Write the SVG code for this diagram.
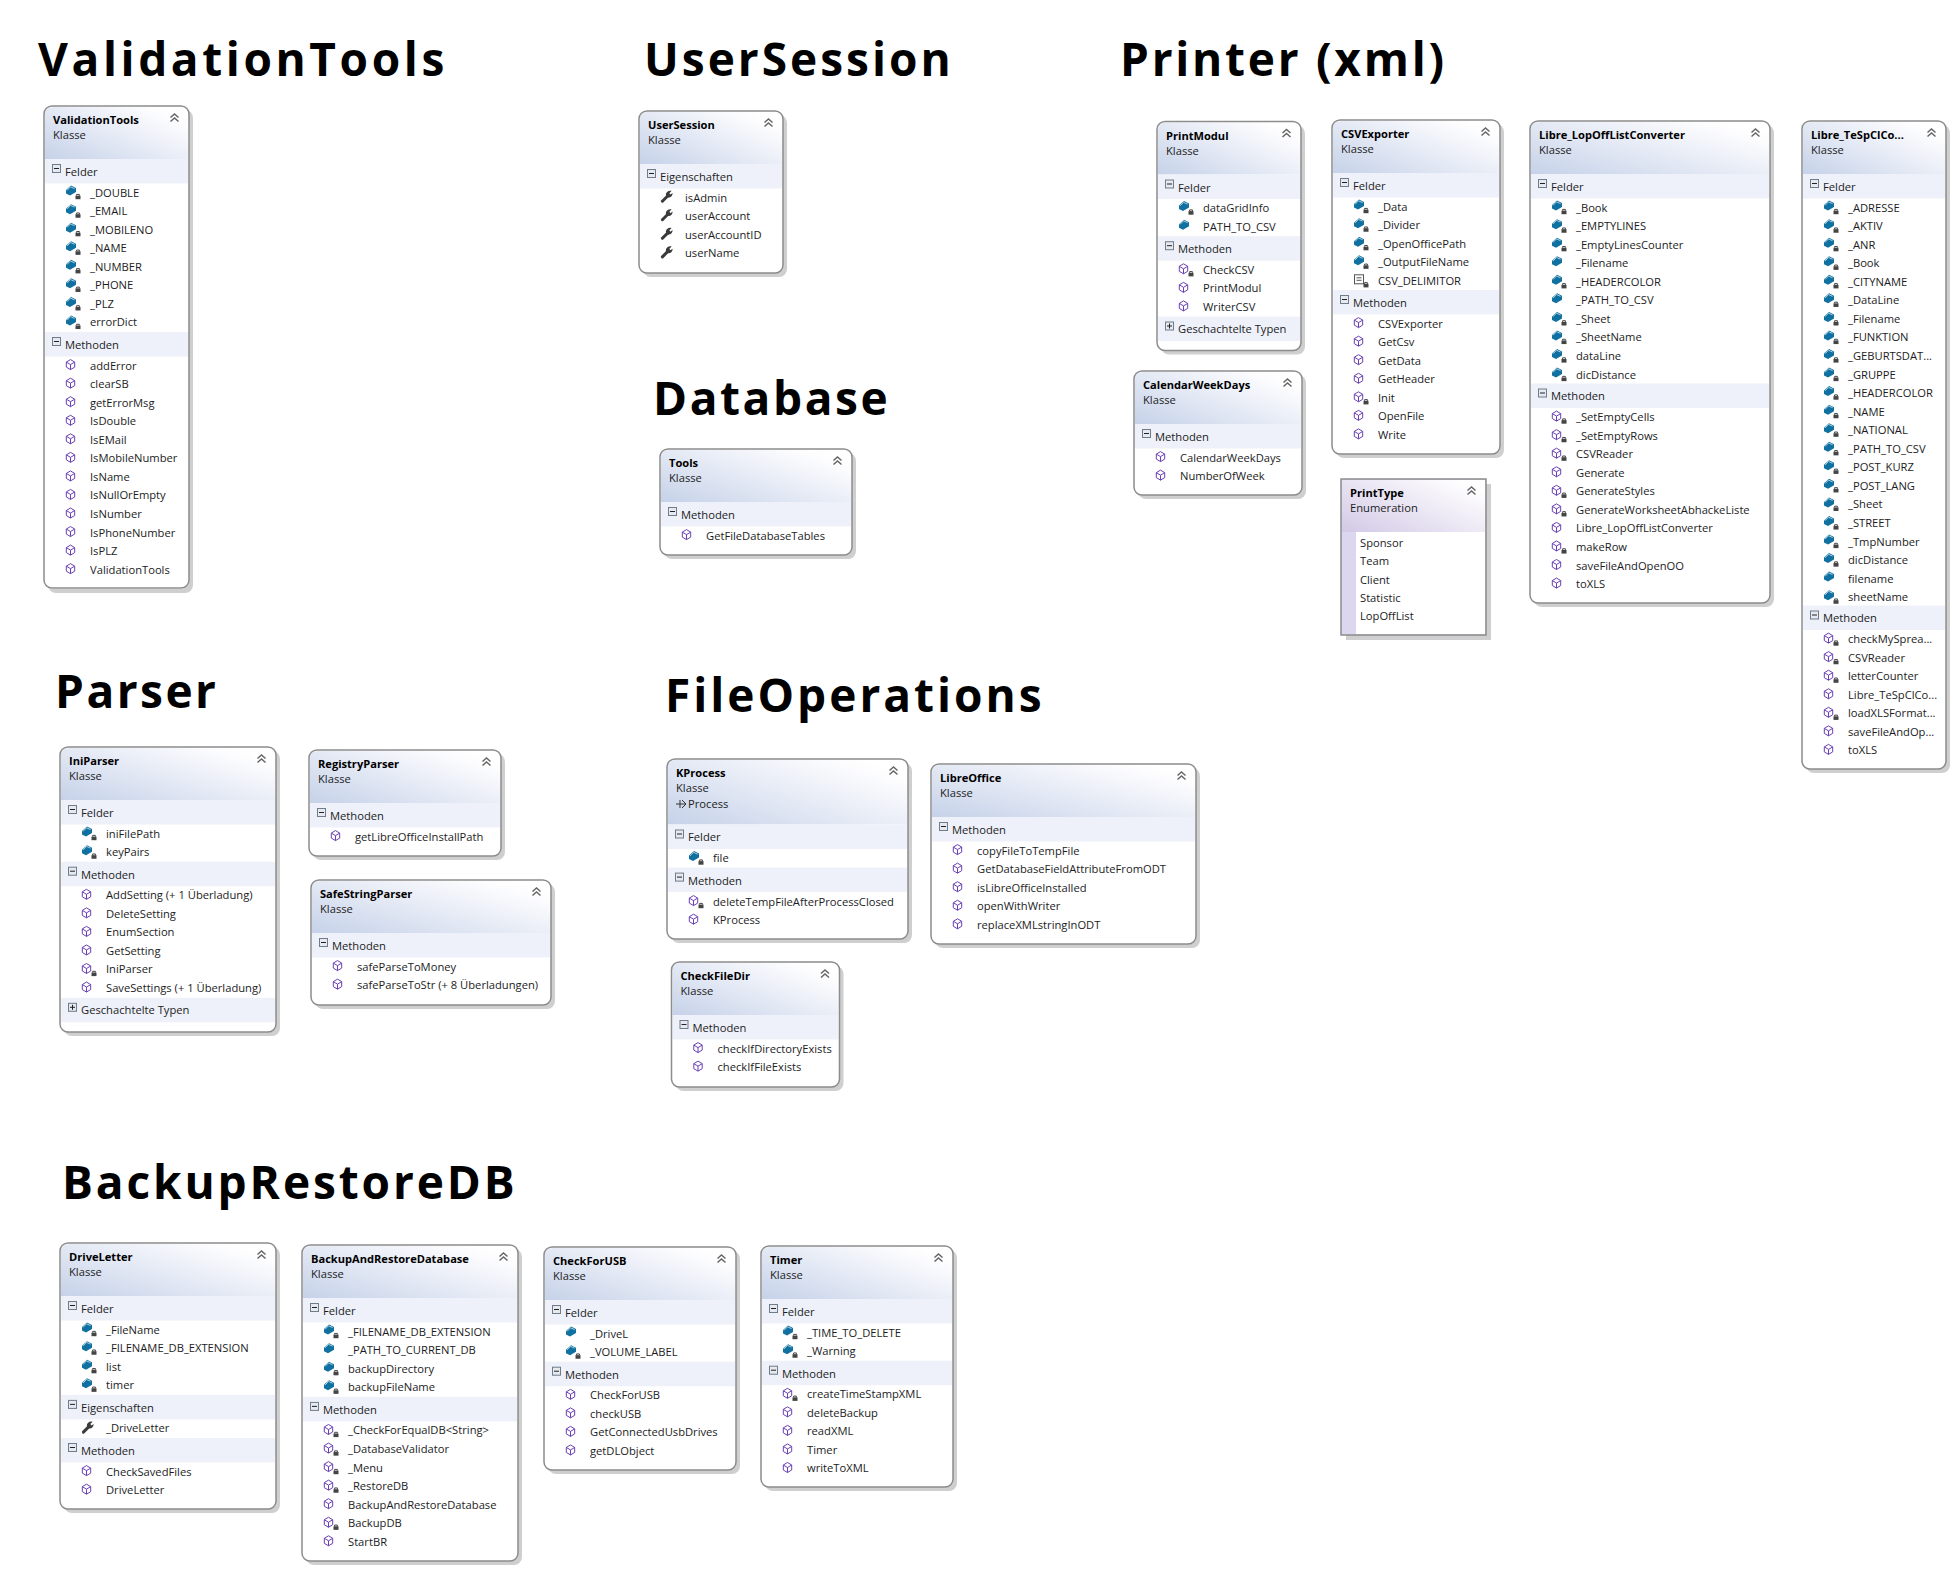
<svg xmlns="http://www.w3.org/2000/svg" width="1955" height="1570" viewBox="0 0 1955 1570">
<style>
text{font-family:"Open Sans","Noto Sans","Liberation Sans",sans-serif;font-size:11.2px;fill:#1c1c24}
.title{font-weight:700;font-size:46px;letter-spacing:3.7px;fill:#000}
.name{font-weight:700;font-size:11.1px;fill:#000}
.shadow{fill:#cfcfcf}
.body{fill:#fff}
.outline{fill:none;stroke:#8c8c8c;stroke-width:1.5}
.head{fill:url(#hg)}
.ehead{fill:url(#eg)}
.band{fill:#eef1f9}
</style>
<defs>
<linearGradient id="hg" x1="0" y1="1" x2="1" y2="0.2"><stop offset="0" stop-color="#c6d2e9"/><stop offset="0.9" stop-color="#fcfcfe"/><stop offset="1" stop-color="#fff"/></linearGradient>
<linearGradient id="eg" x1="0" y1="1" x2="1" y2="0.2"><stop offset="0" stop-color="#d2c9e6"/><stop offset="0.9" stop-color="#fbfafd"/><stop offset="1" stop-color="#fff"/></linearGradient>
<g id="lock"><rect x="9.5" y="-1" width="5" height="3.6" fill="#444"/><path d="M10.6,-1V-2.2h2.8V-1" fill="none" stroke="#444"/></g>
<g id="f"><path d="M0,-6.5L5,-11L10,-8.5V-4.5L4,-1L0,-3Z" fill="#10709f"/><path d="M1,-6.2L4.5,-9.8L8.6,-8" fill="none" stroke="#b9dbeb" stroke-width="0.9"/></g>
<g id="fl"><use href="#f"/><use href="#lock"/></g>
<g id="m"><path d="M4.5,-10L8.7,-7.5V-2.5L4.5,0L0.3,-2.5V-7.5ZM0.3,-7.5L4.5,-5L8.7,-7.5M4.5,-5V0" fill="none" stroke="#6a3fb5" stroke-width="1"/></g>
<g id="ml"><use href="#m"/><use href="#lock"/></g>
<g id="p"><path d="M1.4,-0.4L6.6,-5.6" stroke="#3a3a3a" stroke-width="3" stroke-linecap="round" fill="none"/><path d="M4.8,-6.6C4.8,-9.6 7.4,-11.4 10.6,-10.8L8.4,-8.4L9.4,-7L11.6,-8.6C11.8,-5.6 9.4,-3.6 6.6,-4.2Z" fill="#3a3a3a"/></g>
<g id="cl"><rect x="0.5" y="-10" width="9" height="9" fill="#fff" stroke="#555"/><path d="M2.5,-7H7.5M2.5,-4.5H7.5" stroke="#555"/><use href="#lock"/></g>
<g id="minus"><rect x="0.5" y="0.5" width="8" height="8" fill="#e6e9ef" stroke="#6f7c8a"/><path d="M2,4.5H7" stroke="#222"/></g>
<g id="plus"><rect x="0.5" y="0.5" width="8" height="8" fill="#e6e9ef" stroke="#6f7c8a"/><path d="M2,4.5H7M4.5,2V7" stroke="#222"/></g>
<path id="c" d="M0.5,4.5L4.5,1L8.5,4.5M0.5,8.5L4.5,5L8.5,8.5" fill="none" stroke="#666" stroke-width="1.5"/>
</defs>

<g id="titles">
<text class="title" x="38" y="76" style="letter-spacing:3.6px">ValidationTools</text>
<text class="title" x="644" y="76" style="letter-spacing:3px">UserSession</text>
<text class="title" x="1120" y="76" style="letter-spacing:2.75px">Printer (xml)</text>
<text class="title" x="653" y="415" style="letter-spacing:2.6px">Database</text>
<text class="title" x="55" y="708" style="letter-spacing:2.5px">Parser</text>
<text class="title" x="665" y="712" style="letter-spacing:3px">FileOperations</text>
<text class="title" x="62" y="1199" style="letter-spacing:2.9px">BackupRestoreDB</text>
</g>

<g id="ValidationTools" transform="translate(44,106)">
<rect class="shadow" x="4" y="4" width="145" height="483" rx="8"/><rect class="body" width="145" height="483" rx="8"/><path class="head" d="M1,53V9Q1,1 9,1H136Q144,1 144,9V53Z"/>
<text class="name" x="9" y="18">ValidationTools</text><text x="9" y="33">Klasse</text><use href="#c" x="126" y="7"/>
<g transform="translate(0,53)"><rect class="band" x="1" width="143" height="24.5"/><use href="#minus" x="8" y="5"/><text x="21" y="17">Felder</text>
<use href="#fl" x="22" y="37.6"/><text x="46" y="37.6">_DOUBLE</text>
<use href="#fl" x="22" y="56.15"/><text x="46" y="56.15">_EMAIL</text>
<use href="#fl" x="22" y="74.7"/><text x="46" y="74.7">_MOBILENO</text>
<use href="#fl" x="22" y="93.25"/><text x="46" y="93.25">_NAME</text>
<use href="#fl" x="22" y="111.8"/><text x="46" y="111.8">_NUMBER</text>
<use href="#fl" x="22" y="130.35"/><text x="46" y="130.35">_PHONE</text>
<use href="#fl" x="22" y="148.9"/><text x="46" y="148.9">_PLZ</text>
<use href="#fl" x="22" y="167.45"/><text x="46" y="167.45">errorDict</text></g>
<g transform="translate(0,226)"><rect class="band" x="1" width="143" height="24.5"/><use href="#minus" x="8" y="5"/><text x="21" y="16.5">Methoden</text>
<use href="#m" x="22" y="37.6"/><text x="46" y="37.6">addError</text>
<use href="#m" x="22" y="56.15"/><text x="46" y="56.15">clearSB</text>
<use href="#m" x="22" y="74.7"/><text x="46" y="74.7">getErrorMsg</text>
<use href="#m" x="22" y="93.25"/><text x="46" y="93.25">IsDouble</text>
<use href="#m" x="22" y="111.8"/><text x="46" y="111.8">IsEMail</text>
<use href="#m" x="22" y="130.35"/><text x="46" y="130.35">IsMobileNumber</text>
<use href="#m" x="22" y="148.9"/><text x="46" y="148.9">IsName</text>
<use href="#m" x="22" y="167.45"/><text x="46" y="167.45">IsNullOrEmpty</text>
<use href="#m" x="22" y="186"/><text x="46" y="186">IsNumber</text>
<use href="#m" x="22" y="204.55"/><text x="46" y="204.55">IsPhoneNumber</text>
<use href="#m" x="22" y="223.1"/><text x="46" y="223.1">IsPLZ</text>
<use href="#m" x="22" y="241.65"/><text x="46" y="241.65">ValidationTools</text></g>
<rect class="outline" width="145" height="482" rx="8"/>
</g>

<g id="UserSession" transform="translate(639,111)">
<rect class="shadow" x="4" y="4" width="144" height="162" rx="8"/><rect class="body" width="144" height="162" rx="8"/><path class="head" d="M1,53V9Q1,1 9,1H135Q143,1 143,9V53Z"/>
<text class="name" x="9" y="18">UserSession</text><text x="9" y="33">Klasse</text><use href="#c" x="125" y="7"/>
<g transform="translate(0,53)"><rect class="band" x="1" width="142" height="24.5"/><use href="#minus" x="8" y="5"/><text x="21" y="17">Eigenschaften</text>
<use href="#p" x="22" y="37.6"/><text x="46" y="37.6">isAdmin</text>
<use href="#p" x="22" y="56.15"/><text x="46" y="56.15">userAccount</text>
<use href="#p" x="22" y="74.7"/><text x="46" y="74.7">userAccountID</text>
<use href="#p" x="22" y="93.25"/><text x="46" y="93.25">userName</text></g>
<rect class="outline" width="144" height="162" rx="8"/>
</g>

<g id="Tools" transform="translate(660,449)">
<rect class="shadow" x="4" y="4" width="192" height="106" rx="8"/><rect class="body" width="192" height="106" rx="8"/><path class="head" d="M1,53V9Q1,1 9,1H183Q191,1 191,9V53Z"/>
<text class="name" x="9" y="18">Tools</text><text x="9" y="33">Klasse</text><use href="#c" x="173" y="7"/>
<g transform="translate(0,53)"><rect class="band" x="1" width="190" height="24.5"/><use href="#minus" x="8" y="5"/><text x="21" y="17">Methoden</text>
<use href="#m" x="22" y="37.6"/><text x="46" y="37.6">GetFileDatabaseTables</text></g>
<rect class="outline" width="192" height="106" rx="8"/>
</g>

<g id="PrintModul" transform="translate(1157,121.5)">
<rect class="shadow" x="4" y="4" width="144" height="229" rx="8"/><rect class="body" width="144" height="229" rx="8"/><path class="head" d="M1,53V9Q1,1 9,1H135Q143,1 143,9V53Z"/>
<text class="name" x="9" y="18">PrintModul</text><text x="9" y="33">Klasse</text><use href="#c" x="125" y="7"/>
<g transform="translate(0,53)"><rect class="band" x="1" width="142" height="24.5"/><use href="#minus" x="8" y="5"/><text x="21" y="17">Felder</text>
<use href="#fl" x="22" y="37.6"/><text x="46" y="37.6">dataGridInfo</text>
<use href="#f" x="22" y="56.15"/><text x="46" y="56.15">PATH_TO_CSV</text></g>
<g transform="translate(0,114.7)"><rect class="band" x="1" width="142" height="24.5"/><use href="#minus" x="8" y="5"/><text x="21" y="17">Methoden</text>
<use href="#ml" x="22" y="37.6"/><text x="46" y="37.6">CheckCSV</text>
<use href="#m" x="22" y="56.15"/><text x="46" y="56.15">PrintModul</text>
<use href="#m" x="22" y="74.7"/><text x="46" y="74.7">WriterCSV</text></g>
<g transform="translate(0,195)"><rect class="band" x="1" width="142" height="24.5"/><use href="#plus" x="8" y="5"/><text x="21" y="16.5">Geschachtelte Typen</text></g>
<rect class="outline" width="144" height="229" rx="8"/>
</g>

<g id="CalendarWeekDays" transform="translate(1134,371)">
<rect class="shadow" x="4" y="4" width="168" height="124" rx="8"/><rect class="body" width="168" height="124" rx="8"/><path class="head" d="M1,53V9Q1,1 9,1H159Q167,1 167,9V53Z"/>
<text class="name" x="9" y="18">CalendarWeekDays</text><text x="9" y="33">Klasse</text><use href="#c" x="149" y="7"/>
<g transform="translate(0,53)"><rect class="band" x="1" width="166" height="24.5"/><use href="#minus" x="8" y="5"/><text x="21" y="17">Methoden</text>
<use href="#m" x="22" y="37.6"/><text x="46" y="37.6">CalendarWeekDays</text>
<use href="#m" x="22" y="56.15"/><text x="46" y="56.15">NumberOfWeek</text></g>
<rect class="outline" width="168" height="124" rx="8"/>
</g>

<g id="CSVExporter" transform="translate(1332,120)">
<rect class="shadow" x="4" y="4" width="168" height="334" rx="8"/><rect class="body" width="168" height="334" rx="8"/><path class="head" d="M1,53V9Q1,1 9,1H159Q167,1 167,9V53Z"/>
<text class="name" x="9" y="18">CSVExporter</text><text x="9" y="33">Klasse</text><use href="#c" x="149" y="7"/>
<g transform="translate(0,53)"><rect class="band" x="1" width="166" height="24.5"/><use href="#minus" x="8" y="5"/><text x="21" y="17">Felder</text>
<use href="#fl" x="22" y="37.6"/><text x="46" y="37.6">_Data</text>
<use href="#fl" x="22" y="56.15"/><text x="46" y="56.15">_Divider</text>
<use href="#fl" x="22" y="74.7"/><text x="46" y="74.7">_OpenOfficePath</text>
<use href="#fl" x="22" y="93.25"/><text x="46" y="93.25">_OutputFileName</text>
<use href="#cl" x="22" y="111.8"/><text x="46" y="111.8">CSV_DELIMITOR</text></g>
<g transform="translate(0,170)"><rect class="band" x="1" width="166" height="24.5"/><use href="#minus" x="8" y="5"/><text x="21" y="16.5">Methoden</text>
<use href="#m" x="22" y="37.6"/><text x="46" y="37.6">CSVExporter</text>
<use href="#m" x="22" y="56.15"/><text x="46" y="56.15">GetCsv</text>
<use href="#m" x="22" y="74.7"/><text x="46" y="74.7">GetData</text>
<use href="#m" x="22" y="93.25"/><text x="46" y="93.25">GetHeader</text>
<use href="#ml" x="22" y="111.8"/><text x="46" y="111.8">Init</text>
<use href="#m" x="22" y="130.35"/><text x="46" y="130.35">OpenFile</text>
<use href="#m" x="22" y="148.9"/><text x="46" y="148.9">Write</text></g>
<rect class="outline" width="168" height="334" rx="8"/>
</g>

<g id="PrintType" transform="translate(1341,479)">
<rect class="shadow" x="5" y="5" width="145" height="156"/><rect x="0" y="0" width="145" height="156" fill="#dcd6ee"/><path class="ehead" d="M1,53V1H144V53Z"/><rect class="body" x="15" y="53" width="129" height="102"/>
<text class="name" x="9" y="18">PrintType</text><text x="9" y="33">Enumeration</text><use href="#c" x="126" y="7"/>
<text x="19" y="68">Sponsor</text><text x="19" y="86.4">Team</text><text x="19" y="104.6">Client</text><text x="19" y="123">Statistic</text><text x="19" y="141.4">LopOffList</text>
<rect class="outline" width="145" height="156"/>
</g>

<g id="Libre_LopOffListConverter" transform="translate(1530,121)">
<rect class="shadow" x="4" y="4" width="240" height="482" rx="8"/><rect class="body" width="240" height="482" rx="8"/><path class="head" d="M1,53V9Q1,1 9,1H231Q239,1 239,9V53Z"/>
<text class="name" x="9" y="18">Libre_LopOffListConverter</text><text x="9" y="33">Klasse</text><use href="#c" x="221" y="7"/>
<g transform="translate(0,53)"><rect class="band" x="1" width="238" height="24.5"/><use href="#minus" x="8" y="5"/><text x="21" y="17">Felder</text>
<use href="#fl" x="22" y="37.6"/><text x="46" y="37.6">_Book</text>
<use href="#fl" x="22" y="56.15"/><text x="46" y="56.15">_EMPTYLINES</text>
<use href="#fl" x="22" y="74.7"/><text x="46" y="74.7">_EmptyLinesCounter</text>
<use href="#f" x="22" y="93.25"/><text x="46" y="93.25">_Filename</text>
<use href="#fl" x="22" y="111.8"/><text x="46" y="111.8">_HEADERCOLOR</text>
<use href="#f" x="22" y="130.35"/><text x="46" y="130.35">_PATH_TO_CSV</text>
<use href="#fl" x="22" y="148.9"/><text x="46" y="148.9">_Sheet</text>
<use href="#fl" x="22" y="167.45"/><text x="46" y="167.45">_SheetName</text>
<use href="#fl" x="22" y="186"/><text x="46" y="186">dataLine</text>
<use href="#fl" x="22" y="204.55"/><text x="46" y="204.55">dicDistance</text></g>
<g transform="translate(0,262.5)"><rect class="band" x="1" width="238" height="24.5"/><use href="#minus" x="8" y="5"/><text x="21" y="16">Methoden</text>
<use href="#ml" x="22" y="37.6"/><text x="46" y="37.6">_SetEmptyCells</text>
<use href="#ml" x="22" y="56.15"/><text x="46" y="56.15">_SetEmptyRows</text>
<use href="#ml" x="22" y="74.7"/><text x="46" y="74.7">CSVReader</text>
<use href="#m" x="22" y="93.25"/><text x="46" y="93.25">Generate</text>
<use href="#ml" x="22" y="111.8"/><text x="46" y="111.8">GenerateStyles</text>
<use href="#ml" x="22" y="130.35"/><text x="46" y="130.35">GenerateWorksheetAbhackeListe</text>
<use href="#m" x="22" y="148.9"/><text x="46" y="148.9">Libre_LopOffListConverter</text>
<use href="#ml" x="22" y="167.45"/><text x="46" y="167.45">makeRow</text>
<use href="#m" x="22" y="186"/><text x="46" y="186">saveFileAndOpenOO</text>
<use href="#m" x="22" y="204.55"/><text x="46" y="204.55">toXLS</text></g>
<rect class="outline" width="240" height="482" rx="8"/>
</g>

<g id="Libre_TeSpClConverter" transform="translate(1802,121)">
<rect class="shadow" x="4" y="4" width="144" height="648" rx="8"/><rect class="body" width="144" height="648" rx="8"/><path class="head" d="M1,53V9Q1,1 9,1H135Q143,1 143,9V53Z"/>
<text class="name" x="9" y="18">Libre_TeSpClCo...</text><text x="9" y="33">Klasse</text><use href="#c" x="125" y="7"/>
<g transform="translate(0,53)"><rect class="band" x="1" width="142" height="24.5"/><use href="#minus" x="8" y="5"/><text x="21" y="17">Felder</text>
<use href="#fl" x="22" y="37.6"/><text x="46" y="37.6">_ADRESSE</text>
<use href="#fl" x="22" y="56.15"/><text x="46" y="56.15">_AKTIV</text>
<use href="#fl" x="22" y="74.7"/><text x="46" y="74.7">_ANR</text>
<use href="#fl" x="22" y="93.25"/><text x="46" y="93.25">_Book</text>
<use href="#fl" x="22" y="111.8"/><text x="46" y="111.8">_CITYNAME</text>
<use href="#fl" x="22" y="130.35"/><text x="46" y="130.35">_DataLine</text>
<use href="#fl" x="22" y="148.9"/><text x="46" y="148.9">_Filename</text>
<use href="#fl" x="22" y="167.45"/><text x="46" y="167.45">_FUNKTION</text>
<use href="#fl" x="22" y="186"/><text x="46" y="186">_GEBURTSDAT...</text>
<use href="#fl" x="22" y="204.55"/><text x="46" y="204.55">_GRUPPE</text>
<use href="#fl" x="22" y="223.1"/><text x="46" y="223.1">_HEADERCOLOR</text>
<use href="#fl" x="22" y="241.65"/><text x="46" y="241.65">_NAME</text>
<use href="#fl" x="22" y="260.2"/><text x="46" y="260.2">_NATIONAL</text>
<use href="#fl" x="22" y="278.75"/><text x="46" y="278.75">_PATH_TO_CSV</text>
<use href="#fl" x="22" y="297.3"/><text x="46" y="297.3">_POST_KURZ</text>
<use href="#fl" x="22" y="315.85"/><text x="46" y="315.85">_POST_LANG</text>
<use href="#fl" x="22" y="334.4"/><text x="46" y="334.4">_Sheet</text>
<use href="#fl" x="22" y="352.95"/><text x="46" y="352.95">_STREET</text>
<use href="#fl" x="22" y="371.5"/><text x="46" y="371.5">_TmpNumber</text>
<use href="#fl" x="22" y="390.05"/><text x="46" y="390.05">dicDistance</text>
<use href="#f" x="22" y="408.6"/><text x="46" y="408.6">filename</text>
<use href="#fl" x="22" y="427.15"/><text x="46" y="427.15">sheetName</text></g>
<g transform="translate(0,484.5)"><rect class="band" x="1" width="142" height="24.5"/><use href="#minus" x="8" y="5"/><text x="21" y="16">Methoden</text>
<use href="#ml" x="22" y="37.6"/><text x="46" y="37.6">checkMySprea...</text>
<use href="#ml" x="22" y="56.15"/><text x="46" y="56.15">CSVReader</text>
<use href="#ml" x="22" y="74.7"/><text x="46" y="74.7">letterCounter</text>
<use href="#m" x="22" y="93.25"/><text x="46" y="93.25">Libre_TeSpClCo...</text>
<use href="#ml" x="22" y="111.8"/><text x="46" y="111.8">loadXLSFormat...</text>
<use href="#m" x="22" y="130.35"/><text x="46" y="130.35">saveFileAndOp...</text>
<use href="#m" x="22" y="148.9"/><text x="46" y="148.9">toXLS</text></g>
<rect class="outline" width="144" height="648" rx="8"/>
</g>

<g id="IniParser" transform="translate(60,747)">
<rect class="shadow" x="4" y="4" width="216" height="285" rx="8"/><rect class="body" width="216" height="285" rx="8"/><path class="head" d="M1,53V9Q1,1 9,1H207Q215,1 215,9V53Z"/>
<text class="name" x="9" y="18">IniParser</text><text x="9" y="33">Klasse</text><use href="#c" x="197" y="7"/>
<g transform="translate(0,53)"><rect class="band" x="1" width="214" height="24.5"/><use href="#minus" x="8" y="5"/><text x="21" y="17">Felder</text>
<use href="#fl" x="22" y="37.6"/><text x="46" y="37.6">iniFilePath</text>
<use href="#fl" x="22" y="56.15"/><text x="46" y="56.15">keyPairs</text></g>
<g transform="translate(0,114.7)"><rect class="band" x="1" width="214" height="24.5"/><use href="#minus" x="8" y="5"/><text x="21" y="17">Methoden</text>
<use href="#m" x="22" y="37.6"/><text x="46" y="37.6">AddSetting (+ 1 Überladung)</text>
<use href="#m" x="22" y="56.15"/><text x="46" y="56.15">DeleteSetting</text>
<use href="#m" x="22" y="74.7"/><text x="46" y="74.7">EnumSection</text>
<use href="#m" x="22" y="93.25"/><text x="46" y="93.25">GetSetting</text>
<use href="#ml" x="22" y="111.8"/><text x="46" y="111.8">IniParser</text>
<use href="#m" x="22" y="130.35"/><text x="46" y="130.35">SaveSettings (+ 1 Überladung)</text></g>
<g transform="translate(0,250.8)"><rect class="band" x="1" width="214" height="24.5"/><use href="#plus" x="8" y="5"/><text x="21" y="16">Geschachtelte Typen</text></g>
<rect class="outline" width="216" height="285" rx="8"/>
</g>

<g id="RegistryParser" transform="translate(309,750)">
<rect class="shadow" x="4" y="4" width="192" height="106" rx="8"/><rect class="body" width="192" height="106" rx="8"/><path class="head" d="M1,53V9Q1,1 9,1H183Q191,1 191,9V53Z"/>
<text class="name" x="9" y="18">RegistryParser</text><text x="9" y="33">Klasse</text><use href="#c" x="173" y="7"/>
<g transform="translate(0,53)"><rect class="band" x="1" width="190" height="24.5"/><use href="#minus" x="8" y="5"/><text x="21" y="17">Methoden</text>
<use href="#m" x="22" y="37.6"/><text x="46" y="37.6">getLibreOfficeInstallPath</text></g>
<rect class="outline" width="192" height="106" rx="8"/>
</g>

<g id="SafeStringParser" transform="translate(311,880)">
<rect class="shadow" x="4" y="4" width="240" height="125" rx="8"/><rect class="body" width="240" height="125" rx="8"/><path class="head" d="M1,53V9Q1,1 9,1H231Q239,1 239,9V53Z"/>
<text class="name" x="9" y="18">SafeStringParser</text><text x="9" y="33">Klasse</text><use href="#c" x="221" y="7"/>
<g transform="translate(0,53)"><rect class="band" x="1" width="238" height="24.5"/><use href="#minus" x="8" y="5"/><text x="21" y="17">Methoden</text>
<use href="#m" x="22" y="37.6"/><text x="46" y="37.6">safeParseToMoney</text>
<use href="#m" x="22" y="56.15"/><text x="46" y="56.15">safeParseToStr (+ 8 Überladungen)</text></g>
<rect class="outline" width="240" height="125" rx="8"/>
</g>

<g id="KProcess" transform="translate(667,759)">
<rect class="shadow" x="4" y="4" width="241" height="180" rx="8"/><rect class="body" width="241" height="180" rx="8"/><path class="head" d="M1,65.5V9Q1,1 9,1H232Q240,1 240,9V65.5Z"/>
<text class="name" x="9" y="18">KProcess</text><text x="9" y="33">Klasse</text><path d="M9,45H18M15,41L19,45L15,49M13,41V49" fill="none" stroke="#333"/><text x="21" y="49">Process</text><use href="#c" x="222" y="7"/>
<g transform="translate(0,65.5)"><rect class="band" x="1" width="239" height="24.5"/><use href="#minus" x="8" y="5"/><text x="21" y="16.5">Felder</text>
<use href="#fl" x="22" y="37.6"/><text x="46" y="37.6">file</text></g>
<g transform="translate(0,108.6)"><rect class="band" x="1" width="239" height="24.5"/><use href="#minus" x="8" y="5"/><text x="21" y="17">Methoden</text>
<use href="#ml" x="22" y="38"/><text x="46" y="38">deleteTempFileAfterProcessClosed</text>
<use href="#m" x="22" y="56.55"/><text x="46" y="56.55">KProcess</text></g>
<rect class="outline" width="241" height="180" rx="8"/>
</g>

<g id="LibreOffice" transform="translate(931,764)">
<rect class="shadow" x="4" y="4" width="265" height="180" rx="8"/><rect class="body" width="265" height="180" rx="8"/><path class="head" d="M1,53V9Q1,1 9,1H256Q264,1 264,9V53Z"/>
<text class="name" x="9" y="18">LibreOffice</text><text x="9" y="33">Klasse</text><use href="#c" x="246" y="7"/>
<g transform="translate(0,53)"><rect class="band" x="1" width="263" height="24.5"/><use href="#minus" x="8" y="5"/><text x="21" y="17">Methoden</text>
<use href="#m" x="22" y="37.6"/><text x="46" y="37.6">copyFileToTempFile</text>
<use href="#m" x="22" y="56.15"/><text x="46" y="56.15">GetDatabaseFieldAttributeFromODT</text>
<use href="#m" x="22" y="74.7"/><text x="46" y="74.7">isLibreOfficeInstalled</text>
<use href="#m" x="22" y="93.25"/><text x="46" y="93.25">openWithWriter</text>
<use href="#m" x="22" y="111.8"/><text x="46" y="111.8">replaceXMLstringInODT</text></g>
<rect class="outline" width="265" height="180" rx="8"/>
</g>

<g id="CheckFileDir" transform="translate(671.5,962)">
<rect class="shadow" x="4" y="4" width="168" height="125" rx="8"/><rect class="body" width="168" height="125" rx="8"/><path class="head" d="M1,53V9Q1,1 9,1H159Q167,1 167,9V53Z"/>
<text class="name" x="9" y="18">CheckFileDir</text><text x="9" y="33">Klasse</text><use href="#c" x="149" y="7"/>
<g transform="translate(0,53)"><rect class="band" x="1" width="166" height="24.5"/><use href="#minus" x="8" y="5"/><text x="21" y="17">Methoden</text>
<use href="#m" x="22" y="37.6"/><text x="46" y="37.6">checkIfDirectoryExists</text>
<use href="#m" x="22" y="56.15"/><text x="46" y="56.15">checkIfFileExists</text></g>
<rect class="outline" width="168" height="125" rx="8"/>
</g>

<g id="DriveLetter" transform="translate(60,1243)">
<rect class="shadow" x="4" y="4" width="216" height="266" rx="8"/><rect class="body" width="216" height="266" rx="8"/><path class="head" d="M1,53V9Q1,1 9,1H207Q215,1 215,9V53Z"/>
<text class="name" x="9" y="18">DriveLetter</text><text x="9" y="33">Klasse</text><use href="#c" x="197" y="7"/>
<g transform="translate(0,53)"><rect class="band" x="1" width="214" height="24.5"/><use href="#minus" x="8" y="5"/><text x="21" y="17">Felder</text>
<use href="#fl" x="22" y="37.6"/><text x="46" y="37.6">_FileName</text>
<use href="#fl" x="22" y="56.15"/><text x="46" y="56.15">_FILENAME_DB_EXTENSION</text>
<use href="#fl" x="22" y="74.7"/><text x="46" y="74.7">list</text>
<use href="#fl" x="22" y="93.25"/><text x="46" y="93.25">timer</text></g>
<g transform="translate(0,151.9)"><rect class="band" x="1" width="214" height="24.5"/><use href="#minus" x="8" y="5"/><text x="21" y="17">Eigenschaften</text>
<use href="#p" x="22" y="37.6"/><text x="46" y="37.6">_DriveLetter</text></g>
<g transform="translate(0,195)"><rect class="band" x="1" width="214" height="24.5"/><use href="#minus" x="8" y="5"/><text x="21" y="17">Methoden</text>
<use href="#m" x="22" y="37.6"/><text x="46" y="37.6">CheckSavedFiles</text>
<use href="#m" x="22" y="56.15"/><text x="46" y="56.15">DriveLetter</text></g>
<rect class="outline" width="216" height="266" rx="8"/>
</g>

<g id="BackupAndRestoreDatabase" transform="translate(302,1245)">
<rect class="shadow" x="4" y="4" width="216" height="316" rx="8"/><rect class="body" width="216" height="316" rx="8"/><path class="head" d="M1,53V9Q1,1 9,1H207Q215,1 215,9V53Z"/>
<text class="name" x="9" y="18">BackupAndRestoreDatabase</text><text x="9" y="33">Klasse</text><use href="#c" x="197" y="7"/>
<g transform="translate(0,53)"><rect class="band" x="1" width="214" height="24.5"/><use href="#minus" x="8" y="5"/><text x="21" y="17">Felder</text>
<use href="#fl" x="22" y="37.6"/><text x="46" y="37.6">_FILENAME_DB_EXTENSION</text>
<use href="#f" x="22" y="56.15"/><text x="46" y="56.15">_PATH_TO_CURRENT_DB</text>
<use href="#fl" x="22" y="74.7"/><text x="46" y="74.7">backupDirectory</text>
<use href="#fl" x="22" y="93.25"/><text x="46" y="93.25">backupFileName</text></g>
<g transform="translate(0,151.9)"><rect class="band" x="1" width="214" height="24.5"/><use href="#minus" x="8" y="5"/><text x="21" y="17">Methoden</text>
<use href="#ml" x="22" y="37.6"/><text x="46" y="37.6">_CheckForEqualDB&lt;String&gt;</text>
<use href="#ml" x="22" y="56.15"/><text x="46" y="56.15">_DatabaseValidator</text>
<use href="#ml" x="22" y="74.7"/><text x="46" y="74.7">_Menu</text>
<use href="#ml" x="22" y="93.25"/><text x="46" y="93.25">_RestoreDB</text>
<use href="#m" x="22" y="111.8"/><text x="46" y="111.8">BackupAndRestoreDatabase</text>
<use href="#ml" x="22" y="130.35"/><text x="46" y="130.35">BackupDB</text>
<use href="#m" x="22" y="148.9"/><text x="46" y="148.9">StartBR</text></g>
<rect class="outline" width="216" height="316" rx="8"/>
</g>

<g id="CheckForUSB" transform="translate(544,1247)">
<rect class="shadow" x="4" y="4" width="192" height="223" rx="8"/><rect class="body" width="192" height="223" rx="8"/><path class="head" d="M1,53V9Q1,1 9,1H183Q191,1 191,9V53Z"/>
<text class="name" x="9" y="18">CheckForUSB</text><text x="9" y="33">Klasse</text><use href="#c" x="173" y="7"/>
<g transform="translate(0,53)"><rect class="band" x="1" width="190" height="24.5"/><use href="#minus" x="8" y="5"/><text x="21" y="17">Felder</text>
<use href="#f" x="22" y="37.6"/><text x="46" y="37.6">_DriveL</text>
<use href="#fl" x="22" y="56.15"/><text x="46" y="56.15">_VOLUME_LABEL</text></g>
<g transform="translate(0,114.7)"><rect class="band" x="1" width="190" height="24.5"/><use href="#minus" x="8" y="5"/><text x="21" y="17">Methoden</text>
<use href="#m" x="22" y="37.6"/><text x="46" y="37.6">CheckForUSB</text>
<use href="#m" x="22" y="56.15"/><text x="46" y="56.15">checkUSB</text>
<use href="#m" x="22" y="74.7"/><text x="46" y="74.7">GetConnectedUsbDrives</text>
<use href="#m" x="22" y="93.25"/><text x="46" y="93.25">getDLObject</text></g>
<rect class="outline" width="192" height="223" rx="8"/>
</g>

<g id="Timer" transform="translate(761,1246)">
<rect class="shadow" x="4" y="4" width="192" height="241" rx="8"/><rect class="body" width="192" height="241" rx="8"/><path class="head" d="M1,53V9Q1,1 9,1H183Q191,1 191,9V53Z"/>
<text class="name" x="9" y="18">Timer</text><text x="9" y="33">Klasse</text><use href="#c" x="173" y="7"/>
<g transform="translate(0,53)"><rect class="band" x="1" width="190" height="24.5"/><use href="#minus" x="8" y="5"/><text x="21" y="17">Felder</text>
<use href="#fl" x="22" y="37.6"/><text x="46" y="37.6">_TIME_TO_DELETE</text>
<use href="#fl" x="22" y="56.15"/><text x="46" y="56.15">_Warning</text></g>
<g transform="translate(0,114.7)"><rect class="band" x="1" width="190" height="24.5"/><use href="#minus" x="8" y="5"/><text x="21" y="17">Methoden</text>
<use href="#ml" x="22" y="37.6"/><text x="46" y="37.6">createTimeStampXML</text>
<use href="#m" x="22" y="56.15"/><text x="46" y="56.15">deleteBackup</text>
<use href="#m" x="22" y="74.7"/><text x="46" y="74.7">readXML</text>
<use href="#m" x="22" y="93.25"/><text x="46" y="93.25">Timer</text>
<use href="#m" x="22" y="111.8"/><text x="46" y="111.8">writeToXML</text></g>
<rect class="outline" width="192" height="241" rx="8"/>
</g>
</svg>
